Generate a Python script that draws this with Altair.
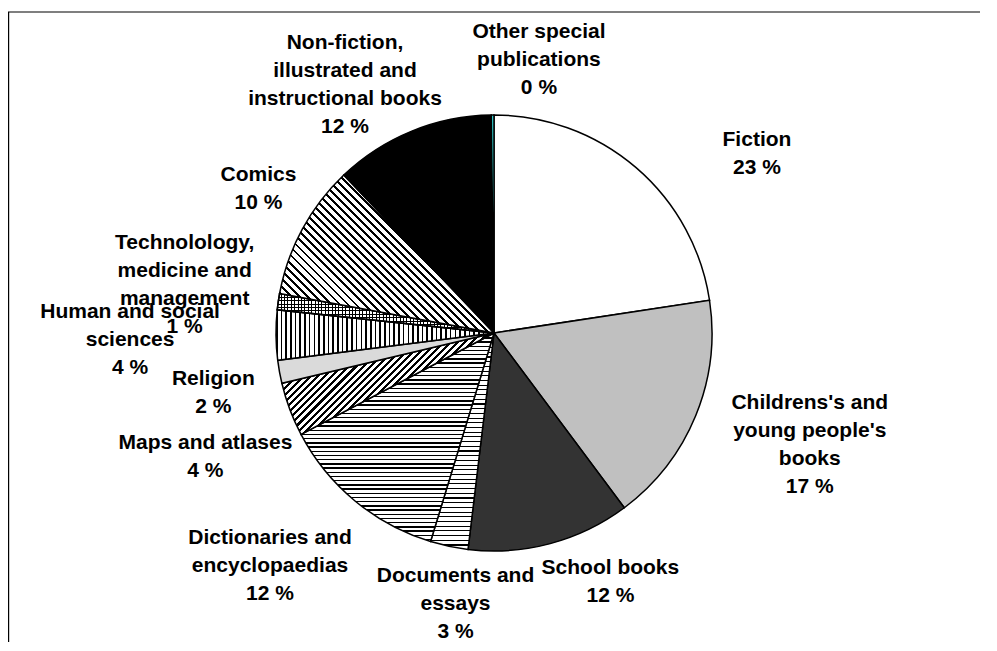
import math
import altair as alt
import numpy as np
import pandas as pd

# ---------------- data ----------------
categories = [
    "Fiction",
    "Childrens's and\nyoung people's\nbooks",
    "School books",
    "Documents and\nessays",
    "Dictionaries and\nencyclopaedias",
    "Maps and atlases",
    "Religion",
    "Human and social\nsciences",
    "Technolology,\nmedicine and\nmanagement",
    "Comics",
    "Non-fiction,\nillustrated and\ninstructional books",
    "Other special\npublications",
]
shares = [22.6, 17.2, 12.1, 2.8, 12.6, 4.0, 1.7, 3.7, 1.2, 10.0, 11.9, 0.2]
shown_pct = [23, 17, 12, 3, 12, 4, 2, 4, 1, 10, 12, 0]

# ---------------- styling / layout (not data) ----------------
W, H, TOP = 972, 618, 16
R = 218
LINE_H = 28
# label placement: distance from centre (px) and turn from the slice middle (deg)
label_dist = [318, 335, 275, 274, 323, 314, 287, 364, 313, 276, 289, 277]
label_turn = [15.1, -2.8, -10.1, -3.8, 4.3, -2.7, -1.8, -0.6, 0.5, 3.0, -8.9, 9.7]
# fill of each slice: plain colour, or list of (stripe direction, period px, line px)
fills = [
    "#ffffff",
    "#c0c0c0",
    "#333333",
    [("h", 4.7, 1.1)],
    [("h", 4.2, 1.5)],
    [("fwd", 5.0, 2.2)],
    "#dadada",
    [("v", 4.7, 1.6)],
    [("v", 3.4, 1.0), ("h", 3.4, 1.0)],
    [("back", 5.7, 2.0)],
    "#000000",
    "#33cccc",
]

ends = np.cumsum(shares)
starts = ends - np.array(shares)
label_text = [f"{c}\n{p} %" for c, p in zip(categories, shown_pct)]
df = pd.DataFrame({
    "i": list(range(len(categories))),
    "label": label_text,
    "lines": [t.count("\n") + 1 for t in label_text],
    "start": starts,
    "end": ends,
})
df["label_at"] = (df["start"] + df["end"]) / 2 + np.array(label_turn) / 3.6
df["label_r"] = label_dist


def wedge_box(a0, a1, r):
    a0d, a1d = a0 * 3.6, a1 * 3.6
    pts = [(0.0, 0.0)]
    angs = [a0d, a1d] + [c for c in (0, 90, 180, 270, 360) if a0d < c < a1d]
    for a in angs:
        t = math.radians(a)
        pts.append((r * math.sin(t), -r * math.cos(t)))
    xs = [p[0] for p in pts]
    ys = [p[1] for p in pts]
    return max(xs) - min(xs), max(ys) - min(ys)


def stripe_stops(span, period, line, gap):
    stops = []
    k = 0
    while k * period < span:
        o0 = k * period / span
        o1 = min((k * period + line) / span, 1.0)
        o2 = min((k + 1) * period / span, 1.0)
        stops += [
            alt.GradientStop(offset=o0, color="#000000"),
            alt.GradientStop(offset=o1, color="#000000"),
            alt.GradientStop(offset=o1, color=gap),
            alt.GradientStop(offset=o2, color=gap),
        ]
        k += 1
    return stops


def stripe_fill(spec, a0, a1, gap):
    kind, period, line = spec
    w, h = wedge_box(a0, a1, R)
    if kind == "h":
        return alt.LinearGradient(gradient="linear", x1=0, y1=0, x2=0, y2=1,
                                  stops=stripe_stops(h, period, line, gap))
    if kind == "v":
        return alt.LinearGradient(gradient="linear", x1=0, y1=0, x2=1, y2=0,
                                  stops=stripe_stops(w, period, line, gap))
    k = (w + h) / (w * w + h * h)
    span = (w + h) / math.sqrt(2)
    if kind == "fwd":
        return alt.LinearGradient(gradient="linear", x1=0, y1=0, x2=w * k, y2=h * k,
                                  stops=stripe_stops(span, period, line, gap))
    return alt.LinearGradient(gradient="linear", x1=1, y1=0, x2=1 - w * k, y2=h * k,
                              stops=stripe_stops(span, period, line, gap))


def fill_list(spec, a0, a1):
    if isinstance(spec, str):
        return [spec]
    out = []
    for j, s in enumerate(spec):
        gap = "#ffffff" if j == 0 else "rgba(255,255,255,0)"
        out.append(stripe_fill(s, a0, a1, gap))
    return out


theta_scale = alt.Scale(domain=[0, 100])
base = alt.Chart(df)

layers = []
for idx, spec in enumerate(fills):
    for fill in fill_list(spec, starts[idx], ends[idx]):
        layers.append(
            base.transform_filter(alt.datum.i == idx)
            .mark_arc(outerRadius=R, fill=fill, stroke="#000000", strokeWidth=1.5)
            .encode(
                theta=alt.Theta("start:Q", stack=False, scale=theta_scale),
                theta2=alt.Theta2("end:Q"),
            )
        )

# one text layer per line count so each block is centred on its anchor
label_layers = []
for n in sorted(set(df["lines"])):
    label_layers.append(
        base.transform_filter(alt.datum.lines == n)
        .mark_text(
            font="Liberation Sans", fontWeight="bold", fontSize=21, lineHeight=LINE_H,
            lineBreak="\n", align="center", baseline="middle", color="#000000",
            dy=-(n - 1) * LINE_H / 2,
        )
        .encode(
            theta=alt.Theta("label_at:Q", stack=False, scale=theta_scale),
            radius=alt.Radius("label_r:Q", scale=None),
            text="label:N",
        )
    )

frame_src = alt.Data(values=[{"f": 1}])
frame_left = alt.Chart(frame_src).mark_rule(color="#000000", strokeWidth=1.2).encode(
    x=alt.value(0.6), y=alt.value(-12), y2=alt.value(700)
)
frame_top = alt.Chart(frame_src).mark_rule(color="#000000", strokeWidth=1.2).encode(
    x=alt.value(0), x2=alt.value(1000), y=alt.value(-12)
)

chart = alt.layer(*layers, *label_layers, frame_left, frame_top).properties(
    width=W, height=H,
    autosize=alt.AutoSizeParams(type="none"),
    padding={"top": TOP, "left": 0, "right": 0, "bottom": 0},
    background="#ffffff",
).configure_view(stroke=None)

chart.save("out.html", embed_options={"renderer": "svg", "actions": False})
